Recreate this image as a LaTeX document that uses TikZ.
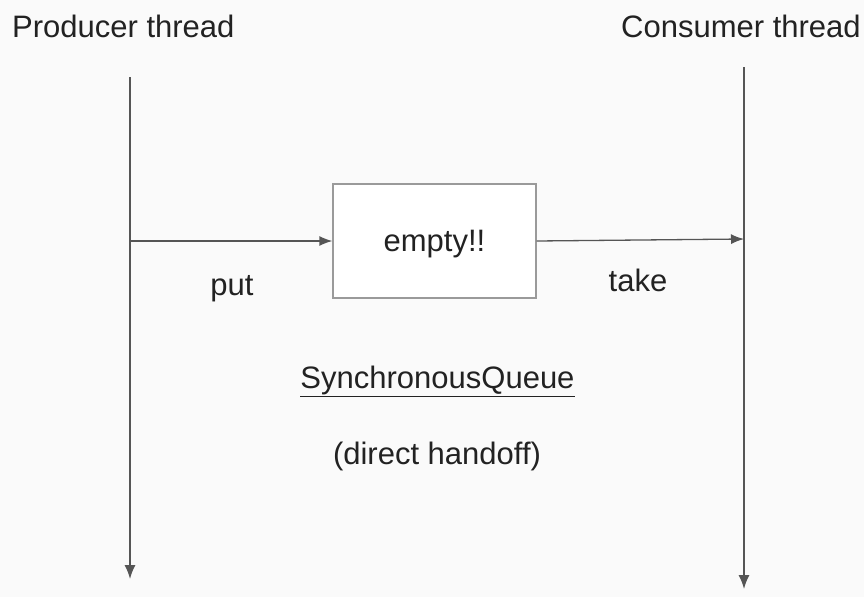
\documentclass[tikz,border=0pt]{standalone}
\usepackage{fontspec}
\setmainfont{Liberation Sans}
\usetikzlibrary{arrows.meta}
\definecolor{bgcol}{HTML}{FAFAFA}
\definecolor{txtcol}{HTML}{222222}
\definecolor{linecol}{HTML}{555555}
\definecolor{boxcol}{HTML}{9A9A9A}
\tikzset{
  lbl/.style={font=\fontsize{31}{36}\selectfont,text=txtcol,inner sep=0pt},
  lifeline/.style={draw=linecol,line width=1.4pt,-{Latex[length=14pt,width=11pt]}},
  msg/.style={draw=linecol,line width=1.3pt,-{Latex[length=13pt,width=10pt]}},
  qbox/.style={rectangle,draw=boxcol,line width=1.3pt,fill=white,minimum width=203pt,minimum height=114pt,inner sep=0pt}
}
\begin{document}
\begin{tikzpicture}[x=1pt,y=-1pt]
\path[fill=bgcol] (0,0) rectangle (864,597);
\node(producer)[lbl,anchor=base west] at (12,37){Producer thread};
\node(consumer)[lbl,anchor=base west] at (621,37){Consumer thread};
\coordinate(ptop) at (130,77);
\coordinate(pbot) at (130,579);
\coordinate(ctop) at (744,67);
\coordinate(cbot) at (744,589);
\coordinate(pout) at (130,241);
\coordinate(cin) at (744,239);
\node(queue)[qbox] at (434.5,241){};
\node(empty)[lbl] at (434.5,244){empty!!};
\node(put)[lbl] at (232,289){put};
\node(take)[lbl] at (638,280){take};
\node(sq)[lbl] at (437.5,381){\underline{SynchronousQueue}};
\node(handoff)[lbl] at (437,456){(direct handoff)};
\path[lifeline] (ptop) -- (pbot);
\path[lifeline] (ctop) -- (cbot);
\path[msg] (pout) -- (queue.west);
\path[msg] (queue.east) -- (cin);
\end{tikzpicture}
\end{document}
